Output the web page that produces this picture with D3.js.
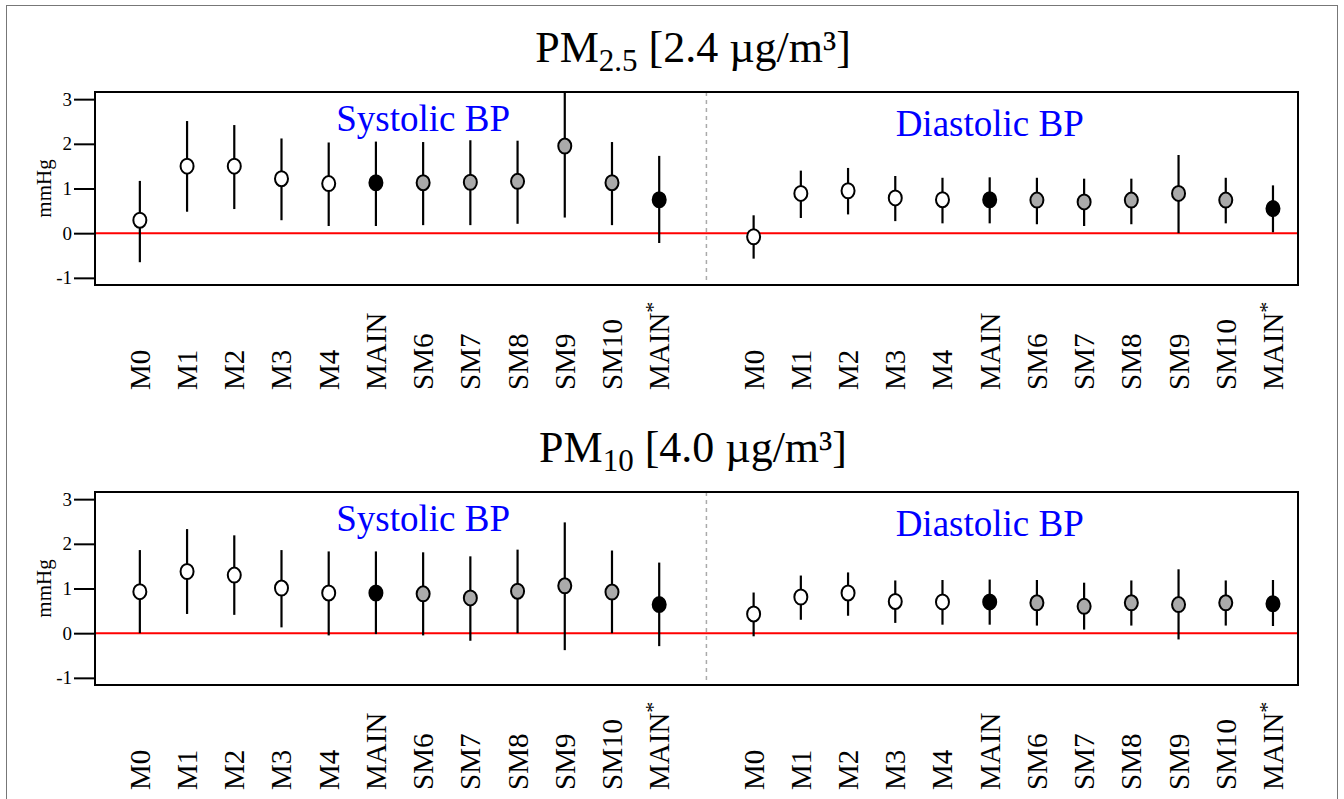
<!DOCTYPE html>
<html>
<head>
<meta charset="utf-8">
<script src="https://cdn.jsdelivr.net/npm/d3@7"></script>
<style>
  html, body { margin: 0; padding: 0; background: #fff; }
  svg { display: block; }
  text { font-family: "Liberation Serif", "Times New Roman", serif; }
</style>
</head>
<body>
<svg id="chart" width="1344" height="799"></svg>
<script>
// ---------------- data ----------------
const models = ["M0","M1","M2","M3","M4","MAIN","SM6","SM7","SM8","SM9","SM10","MAIN*"];
const markerType = ["open","open","open","open","open","main","sens","sens","sens","sens","sens","main"];
const yTicks = [-1, 0, 1, 2, 3];
const yTickLabels = ["-1", "0", "1", "2", "3"];
const outcomes = ["Systolic BP", "Diastolic BP"];

// PM2.5 [2.4 µg/m³]
const pm25SysEst = [0.29, 1.50, 1.50, 1.22, 1.11, 1.13, 1.13, 1.14, 1.16, 1.95, 1.13, 0.75];
const pm25SysLo  = [-0.65, 0.48, 0.54, 0.29, 0.16, 0.16, 0.18, 0.18, 0.21, 0.35, 0.18, -0.22];
const pm25SysHi  = [1.17, 2.51, 2.42, 2.12, 2.03, 2.05, 2.04, 2.08, 2.07, 3.60, 2.04, 1.73];
const pm25DiaEst = [-0.08, 0.89, 0.95, 0.79, 0.75, 0.75, 0.74, 0.70, 0.74, 0.89, 0.74, 0.55];
const pm25DiaLo  = [-0.57, 0.34, 0.42, 0.27, 0.22, 0.22, 0.20, 0.16, 0.20, 0.00, 0.22, 0.02];
const pm25DiaHi  = [0.40, 1.40, 1.46, 1.28, 1.24, 1.25, 1.24, 1.22, 1.22, 1.75, 1.24, 1.07];

// PM10 [4.0 µg/m³]
const pm10SysEst = [0.93, 1.38, 1.30, 1.01, 0.90, 0.90, 0.88, 0.79, 0.94, 1.06, 0.92, 0.64];
const pm10SysLo  = [0.00, 0.43, 0.41, 0.13, -0.05, -0.02, -0.05, -0.17, 0.00, -0.38, 0.00, -0.29];
const pm10SysHi  = [1.86, 2.33, 2.19, 1.86, 1.83, 1.83, 1.81, 1.72, 1.87, 2.48, 1.85, 1.58];
const pm10DiaEst = [0.43, 0.81, 0.90, 0.71, 0.70, 0.70, 0.68, 0.60, 0.68, 0.64, 0.68, 0.66];
const pm10DiaLo  = [-0.07, 0.30, 0.39, 0.23, 0.19, 0.19, 0.17, 0.08, 0.17, -0.14, 0.17, 0.16];
const pm10DiaHi  = [0.91, 1.29, 1.36, 1.18, 1.19, 1.20, 1.19, 1.13, 1.18, 1.43, 1.18, 1.19];

const panels = [
  { pollutant: "PM", sub: "2.5", unit: " [2.4 µg/m³]",
    sys: [pm25SysEst, pm25SysLo, pm25SysHi], dia: [pm25DiaEst, pm25DiaLo, pm25DiaHi] },
  { pollutant: "PM", sub: "10", unit: " [4.0 µg/m³]",
    sys: [pm10SysEst, pm10SysLo, pm10SysHi], dia: [pm10DiaEst, pm10DiaLo, pm10DiaHi] }
];

// ---------------- layout ----------------
const svg = d3.select("#chart");
const fillFor = { open: "#ffffff", main: "#000000", sens: "#aaaaaa" };

// outer frame
svg.append("rect").attr("x", 6.5).attr("y", 5.5).attr("width", 1331).attr("height", 800)
  .attr("fill", "none").attr("stroke", "#777").attr("stroke-width", 1);

const left = 95, right = 1298;
const x = d3.scaleLinear().domain([0.05, 25.53]).range([left, right]);
const panelH = 193;

panels.forEach((p, pi) => {
  const top = 92 + pi * 400;
  const bottom = top + panelH;
  const y = d3.scaleLinear().domain([-1.16, 3.16]).range([bottom, top]);
  const g = svg.append("g");

  // title
  const t = g.append("text").attr("x", 693).attr("y", top - 30)
    .attr("text-anchor", "middle").attr("font-size", 44).attr("fill", "#000");
  t.append("tspan").text(p.pollutant);
  t.append("tspan").attr("font-size", 31).attr("dy", 9).text(p.sub);
  t.append("tspan").attr("dy", -9).text(p.unit);

  const clipId = "clip" + pi;
  svg.append("clipPath").attr("id", clipId).append("rect")
    .attr("x", left).attr("y", top).attr("width", right - left).attr("height", panelH);

  // zero line
  g.append("line").attr("x1", left).attr("x2", right)
    .attr("y1", y(0)).attr("y2", y(0)).attr("stroke", "#ff0000").attr("stroke-width", 2);

  // separator
  g.append("line").attr("x1", x(13)).attr("x2", x(13)).attr("y1", top).attr("y2", bottom)
    .attr("stroke", "#aaaaaa").attr("stroke-width", 1.5).attr("stroke-dasharray", "4,4");

  // outcome labels
  g.append("text").attr("x", x(7)).attr("y", top + 39).attr("text-anchor", "middle")
    .attr("font-size", 37).attr("fill", "#0000ff").text(outcomes[0]);
  g.append("text").attr("x", x(19)).attr("y", top + 44).attr("text-anchor", "middle")
    .attr("font-size", 37).attr("fill", "#0000ff").text(outcomes[1]);

  // y axis
  const yAxis = d3.axisLeft(y).tickValues(yTicks).tickSize(21).tickPadding(2)
    .tickFormat((d, i) => yTickLabels[i]);
  const ya = g.append("g").attr("transform", `translate(${left},0)`).call(yAxis)
    .attr("font-family", "Liberation Serif, serif").attr("font-size", 19);
  ya.select(".domain").remove();
  ya.selectAll(".tick line").attr("stroke", "#000").attr("stroke-width", 2);
  ya.selectAll(".tick text").attr("fill", "#000");
  g.append("line").attr("x1", left).attr("x2", left).attr("y1", y(3)).attr("y2", y(-1))
    .attr("stroke", "#000").attr("stroke-width", 2);

  g.append("text").attr("transform", `translate(${left - 44},${(top + bottom) / 2}) rotate(-90)`)
    .attr("text-anchor", "middle").attr("font-size", 21).text("mmHg");

  // points
  const rows = [];
  [p.sys, p.dia].forEach((ser, si) => {
    models.forEach((m, i) => {
      rows.push({ pos: i + 1 + si * 13, est: ser[0][i], lo: ser[1][i], hi: ser[2][i], type: markerType[i] });
    });
  });
  const pg = g.append("g").attr("clip-path", `url(#${clipId})`);
  pg.selectAll("line.err").data(rows).join("line").attr("class", "err")
    .attr("x1", d => x(d.pos)).attr("x2", d => x(d.pos))
    .attr("y1", d => y(d.lo)).attr("y2", d => y(d.hi))
    .attr("stroke", "#000").attr("stroke-width", 2.2);
  pg.selectAll("ellipse").data(rows).join("ellipse")
    .attr("cx", d => x(d.pos)).attr("cy", d => y(d.est))
    .attr("rx", 6.5).attr("ry", 7.5)
    .attr("fill", d => fillFor[d.type]).attr("stroke", "#000").attr("stroke-width", 2);

  // box
  g.append("rect").attr("x", left).attr("y", top).attr("width", right - left).attr("height", panelH)
    .attr("fill", "none").attr("stroke", "#000").attr("stroke-width", 2);

  // x labels
  const lab = g.append("g");
  rows.forEach(d => {
    const name = models[(d.pos - 1) % 13];
    const tx = lab.append("text")
      .attr("transform", `translate(${x(d.pos) + 10},${bottom + 105}) rotate(-90)`)
      .attr("text-anchor", "start").attr("font-size", 29).attr("fill", "#000");
    if (name.endsWith("*")) {
      tx.append("tspan").text(name.slice(0, -1));
      tx.append("tspan").attr("font-size", 22).attr("dy", -9).text("*");
    } else {
      tx.text(name);
    }
  });
});
</script>
</body>
</html>
